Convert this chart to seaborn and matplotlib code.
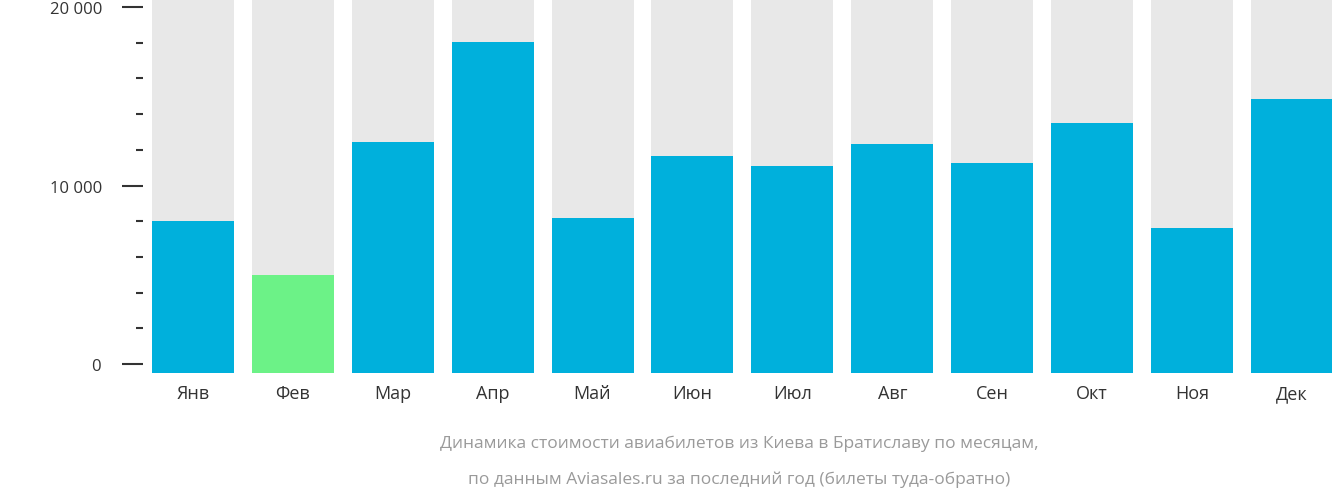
import matplotlib
matplotlib.use("Agg")
import matplotlib.pyplot as plt
import seaborn as sns
from matplotlib.ticker import MultipleLocator, FuncFormatter

months = ["Янв", "Фев", "Мар", "Апр", "Май", "Июн", "Июл", "Авг", "Сен", "Окт", "Ноя", "Дек"]
prices = [8030, 5000, 12420, 18030, 8200, 11630, 11120, 12300, 11290, 13480, 7640, 14830]
bar_colors = ["#00b0dc", "#6cf287"] + ["#00b0dc"] * 10
caption = ["Динамика стоимости авиабилетов из Киева в Братиславу по месяцам,",
           "по данным Aviasales.ru за последний год (билеты туда-обратно)"]

plt.rcParams["font.family"] = "Open Sans"
fig = plt.figure(figsize=(13.32, 5.02), dpi=100)
ax = fig.add_axes([0.111, 0.255, 0.889, 0.745])

y_bottom, y_top = -500, 20450
sns.barplot(x=months, y=[y_top] * 12, color="#e8e8e8", width=0.82, ax=ax, saturation=1)
sns.barplot(x=months, y=prices, hue=months, palette=bar_colors, width=0.82,
            ax=ax, saturation=1, legend=False)
# extend bars slightly below zero like the reference
for p in ax.patches:
    h = p.get_height()
    p.set_y(y_bottom)
    p.set_height(h - y_bottom)

ax.set_xlim(-0.45, 11.4)
ax.set_ylim(y_bottom, y_top)
for s in ax.spines.values():
    s.set_visible(False)
ax.set_xlabel("")
ax.set_ylabel("")
ax.yaxis.set_major_locator(MultipleLocator(10000))
ax.yaxis.set_minor_locator(MultipleLocator(2000))
ax.yaxis.set_major_formatter(FuncFormatter(lambda v, _: f"{int(v):,}".replace(",", " ") + " ₽"))
ax.tick_params(axis="y", which="major", length=15, width=1.5, color="#333333",
               labelsize=12, labelcolor="#333333", pad=4)
ax.tick_params(axis="y", which="minor", length=5, width=1.5, color="#333333")
ax.tick_params(axis="x", length=0, labelsize=13, labelcolor="#333333", pad=8)
for t in ax.yaxis.get_major_ticks() + ax.yaxis.get_minor_ticks():
    t.tick1line.set_transform(t.tick1line.get_transform() + matplotlib.transforms.ScaledTranslation(-5 / 100, 0, fig.dpi_scale_trans))
for t in ax.get_yticklabels():
    t.set_transform(t.get_transform() + matplotlib.transforms.ScaledTranslation(-5 / 100, 0, fig.dpi_scale_trans))

fig.text(0.555, 1 - 444 / 502, caption[0], ha="center", va="center", fontsize=12.5, color="#9a9a9a")
fig.text(0.555, 1 - 480 / 502, caption[1], ha="center", va="center", fontsize=12.5, color="#9a9a9a")

fig.savefig("out.png", dpi=100)
